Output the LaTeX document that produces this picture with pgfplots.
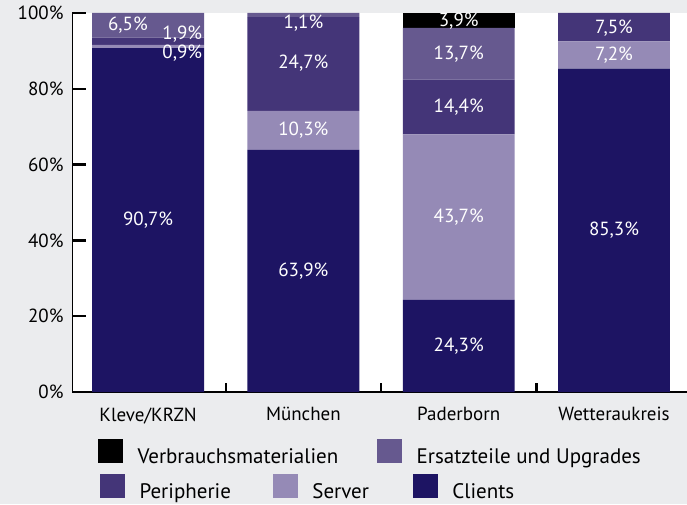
\documentclass[border=0pt]{standalone}
\usepackage{fontspec}
\setmainfont{PT Sans}
\usepackage{pgfplots}
\usepackage{pgfplotstable}
\pgfplotsset{compat=1.18}

\definecolor{clients}{HTML}{1D1463}
\definecolor{server}{HTML}{958AB6}
\definecolor{peripherie}{HTML}{443578}
\definecolor{ersatz}{HTML}{66598F}
\definecolor{bggrey}{HTML}{EBECEE}

% Anteile in Prozent, von unten nach oben gestapelt (Kategorien 1..4)
\pgfplotstableread{
x clients server peripherie ersatz verbrauch
1 90.7  0.9  1.9  6.5 0
2 63.9 10.3 24.7  1.1 0
3 24.3 43.7 14.4 13.7 3.9
4 85.3  7.2  7.5  0   0
}\shares

% Beschriftungen der Segmente (Lage und Wert)
\pgfplotstableread{
x y val
1     45.35 90.7
1.22  89.4  0.9
1.22  94.5  1.9
0.87  96.8  6.5
2     31.95 63.9
2     69.05 10.3
2     86.8  24.7
2     97.4  1.1
3     12.15 24.3
3     46.15 43.7
3     75.2  14.4
3     89.25 13.7
3     97.8  3.9
4     42.65 85.3
4     88.9  7.2
4     96.0  7.5
}\labels

\newcommand\fs{\fontsize{19}{22}\selectfont}
\newcommand\fl{\fontsize{21}{24}\selectfont}

\pgfplotsset{
  common/.style={width=615pt, height=379pt, scale only axis,
    xmin=0.51, xmax=4.47, ymin=0, ymax=100,
    /pgf/number format/assume math mode=true},
  sq/.style={legend image code/.code={\fill[#1] (0pt,-6pt) rectangle (24pt,17pt);}},
}

\begin{document}
\begin{tikzpicture}
\fill[bggrey] (-72pt,-112pt) rectangle (615pt,392pt);
\begin{axis}[common,
  axis background/.style={fill=white},
  ybar stacked, bar width=0.72,
  axis line style={draw=none},
  xtick pos=left, ytick pos=left,
  every tick/.style={line width=2.4pt, black},
  tick align=inside,
  major tick length=14pt,
  xtick=\empty,
  extra x ticks={1.5,2.5,3.5}, extra x tick labels={},
  extra x tick style={major tick length=9pt},
  ytick={0,20,...,100},
  yticklabel={\pgfmathprintnumber{\tick}\%},
  y tick label style={font=\fs, xshift=-5pt},
  legend columns=2,
  legend style={draw=none, fill=none, inner sep=0pt, font=\fl,
    at={(0.0423,-0.161)}, anchor=west,
    /tikz/every odd column/.append style={column sep=13pt},
    /tikz/column 2/.style={column sep=37pt}},
]
\addplot[fill=clients, draw=none, forget plot] table[x=x, y=clients] {\shares};
\addplot[fill=server, draw=none, forget plot] table[x=x, y=server] {\shares};
\addplot[fill=peripherie, draw=none, forget plot] table[x=x, y=peripherie] {\shares};
\addplot[fill=ersatz, draw=none, forget plot] table[x=x, y=ersatz] {\shares};
\addplot[fill=black, draw=none, forget plot] table[x=x, y=verbrauch] {\shares};
% Achsenlinien und Teilstriche
\draw[line width=2.4pt, line cap=rect] (rel axis cs:0,1) |- (rel axis cs:1,0);
\pgfplotsinvokeforeach{20,40,60,80,100}{
  \draw[line width=2.4pt] (axis cs:0.51,#1) -- ++(14pt,0pt);}
\pgfplotsinvokeforeach{1.5,2.5,3.5}{
  \draw[line width=2.4pt] (axis cs:#1,0) -- ++(0pt,9pt);}
\addlegendimage{sq=black}
\addlegendentry{Verbrauchsmaterialien}
\addlegendimage{sq=ersatz}
\addlegendentry{Ersatzteile und Upgrades}
\end{axis}
\begin{axis}[common,
  axis x line*=bottom, axis y line=none,
  x axis line style={draw=none},
  ytick=\empty,
  xtick={1,2,3,4},
  xticklabels={Kleve/KRZN,München,Paderborn,Wetteraukreis},
  major tick length=0pt,
  x tick label style={font=\fs, yshift=-12pt},
  legend columns=3,
  legend style={draw=none, fill=none, inner sep=0pt, font=\fl,
    at={(0.0455,-0.2533)}, anchor=west,
    /tikz/every odd column/.append style={column sep=13pt},
    /tikz/column 2/.style={column sep=40pt},
    /tikz/column 4/.style={column sep=42pt}},
]
\addlegendimage{sq=peripherie}
\addlegendentry{Peripherie}
\addlegendimage{sq=server}
\addlegendentry{Server}
\addlegendimage{sq=clients}
\addlegendentry{Clients}
\addplot[forget plot, only marks, mark=*, mark size=0pt,
  point meta=explicit,
  nodes near coords={\pgfmathprintnumber[use comma,fixed,fixed zerofill,precision=1]{\pgfplotspointmeta}\%},
  nodes near coords style={anchor=center, text=white, font=\fs}]
  table[x=x, y=y, meta=val] {\labels};
\end{axis}
\pgfresetboundingbox
\useasboundingbox (-72pt,-112pt) rectangle (615pt,392pt);
\end{tikzpicture}
\end{document}
